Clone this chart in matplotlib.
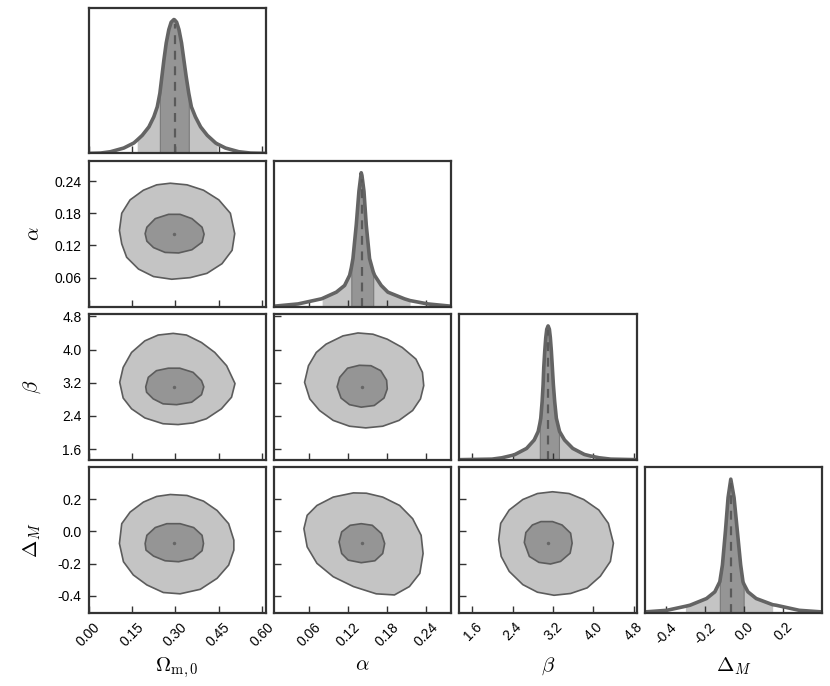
import numpy as np
import matplotlib
matplotlib.use('Agg')
import matplotlib.pyplot as plt
from matplotlib.patches import Polygon
from matplotlib.ticker import FormatStrFormatter

plt.rcParams['font.family'] = ['Liberation Sans', 'DejaVu Sans']
plt.rcParams['mathtext.fontset'] = 'cm'
plt.rcParams['axes.unicode_minus'] = False

# parameters of the corner plot
names = [r'$\Omega_{\mathrm{m},0}$', r'$\alpha$', r'$\beta$', r'$\Delta_M$']
limits = [(0.0, 0.613), (0.006, 0.278), (1.34, 4.86), (-0.507, 0.398)]
ticks = [[0.0, 0.15, 0.30, 0.45, 0.60],
         [0.06, 0.12, 0.18, 0.24],
         [1.6, 2.4, 3.2, 4.0, 4.8],
         [-0.4, -0.2, 0.0, 0.2]]
fmts = ['%.2f', '%.2f', '%.1f', '%.1f']
best = [0.296, 0.141, 3.10, -0.071]

# 1D marginals (height relative to the peak)
om_x = [0.000, 0.042, 0.076, 0.122, 0.157, 0.1685, 0.186, 0.209, 0.226, 0.238, 0.247, 0.254,
        0.261, 0.269, 0.278, 0.286, 0.2954, 0.2977, 0.305, 0.313, 0.322, 0.330, 0.338, 0.347,
        0.356, 0.370, 0.388, 0.411, 0.440, 0.4455, 0.474, 0.520, 0.561, 0.613]
om_h = [0.000, 0.0025, 0.0125, 0.040, 0.078, 0.100, 0.135, 0.198, 0.273, 0.348, 0.449, 0.574,
        0.699, 0.825, 0.925, 0.98, 1.000, 0.998, 0.98, 0.925, 0.825, 0.699, 0.574, 0.449,
        0.348, 0.273, 0.198, 0.135, 0.078, 0.071, 0.040, 0.0125, 0.0025, 0.000]
om_band = [0.1685, 0.247, 0.2977, 0.347, 0.4455]

al_x = [0.006, 0.0431, 0.0788, 0.080, 0.1018, 0.1145, 0.1222, 0.1248, 0.1273, 0.1324, 0.1365,
        0.1400, 0.1411, 0.1442, 0.1477, 0.1528, 0.1584, 0.1605, 0.1707, 0.1809, 0.2064, 0.215,
        0.2421, 0.278]
al_h = [0.003, 0.020, 0.058, 0.060, 0.108, 0.158, 0.234, 0.29, 0.359, 0.611, 0.862,
        1.0, 0.98, 0.862, 0.611, 0.359, 0.26, 0.234, 0.158, 0.108, 0.058, 0.045,
        0.020, 0.003]
al_band = [0.080, 0.1248, 0.1411, 0.1584, 0.215]

be_x = [1.34, 1.987, 2.184, 2.41, 2.446, 2.675, 2.826, 2.905, 2.938, 2.957, 2.984, 3.003,
        3.016, 3.036, 3.056, 3.076, 3.102, 3.105, 3.128, 3.147, 3.167, 3.187, 3.207, 3.233,
        3.266, 3.318, 3.331, 3.429, 3.593, 3.823, 3.95, 4.118, 4.347, 4.86]
be_h = [0.001, 0.005, 0.015, 0.035, 0.040, 0.085, 0.148, 0.211, 0.27, 0.311, 0.436, 0.561,
        0.687, 0.812, 0.912, 0.975, 1.0, 0.998, 0.975, 0.912, 0.812, 0.687, 0.561, 0.436,
        0.311, 0.23, 0.211, 0.148, 0.085, 0.040, 0.028, 0.015, 0.005, 0.001]
be_band = [2.41, 2.938, 3.105, 3.318, 3.95]

dm_x = [-0.507, -0.395, -0.300, -0.2765, -0.192, -0.1496, -0.124, -0.1107, -0.0954, -0.0819,
        -0.068, -0.0514, -0.0345, -0.0176, -0.0058, -0.0024, 0.0196, 0.0619, 0.146, 0.1634,
        0.2819, 0.398]
dm_h = [0.008, 0.020, 0.050, 0.058, 0.108, 0.158, 0.234, 0.359, 0.611, 0.862,
        1.0, 0.862, 0.611, 0.359, 0.234, 0.22, 0.158, 0.108, 0.062, 0.058,
        0.020, 0.008]
dm_band = [-0.300, -0.124, -0.068, -0.0024, 0.146]

# 2D contours (95% outer, 68% inner)
om_al_95 = [(0.107, 0.148), (0.115, 0.180), (0.144, 0.205), (0.190, 0.223), (0.236, 0.233),
            (0.283, 0.236), (0.341, 0.233), (0.398, 0.223), (0.451, 0.205), (0.491, 0.180),
            (0.506, 0.142), (0.497, 0.111), (0.462, 0.086), (0.410, 0.068), (0.352, 0.060),
            (0.288, 0.057), (0.225, 0.062), (0.173, 0.076), (0.132, 0.098), (0.115, 0.123)]
om_al_68 = [(0.196, 0.142), (0.202, 0.154), (0.231, 0.170), (0.277, 0.178), (0.317, 0.178),
            (0.358, 0.170), (0.393, 0.154), (0.400, 0.141), (0.393, 0.126), (0.358, 0.112),
            (0.312, 0.106), (0.265, 0.107), (0.225, 0.116), (0.202, 0.128)]

om_be_95 = [(0.108, 3.21), (0.120, 3.57), (0.149, 3.93), (0.195, 4.21), (0.241, 4.35),
            (0.293, 4.39), (0.339, 4.35), (0.391, 4.17), (0.437, 3.93), (0.478, 3.61),
            (0.507, 3.18), (0.495, 2.85), (0.460, 2.57), (0.408, 2.33), (0.362, 2.23),
            (0.310, 2.19), (0.258, 2.21), (0.195, 2.35), (0.149, 2.57), (0.120, 2.83)]
om_be_68 = [(0.198, 3.10), (0.207, 3.33), (0.235, 3.49), (0.276, 3.55), (0.316, 3.55),
            (0.362, 3.45), (0.391, 3.25), (0.399, 3.10), (0.391, 2.91), (0.357, 2.73),
            (0.305, 2.67), (0.258, 2.69), (0.224, 2.81), (0.201, 2.97)]

al_be_95 = [(0.053, 3.21), (0.059, 3.61), (0.071, 3.93), (0.086, 4.13), (0.112, 4.33),
            (0.135, 4.40), (0.158, 4.37), (0.180, 4.25), (0.203, 4.05), (0.224, 3.77),
            (0.234, 3.45), (0.236, 3.13), (0.231, 2.81), (0.219, 2.53), (0.198, 2.29),
            (0.173, 2.15), (0.147, 2.11), (0.122, 2.15), (0.097, 2.29), (0.076, 2.53),
            (0.061, 2.81)]
al_be_68 = [(0.103, 3.10), (0.107, 3.33), (0.119, 3.55), (0.137, 3.62), (0.155, 3.61),
            (0.170, 3.49), (0.179, 3.26), (0.180, 3.05), (0.175, 2.83), (0.160, 2.65),
            (0.140, 2.61), (0.122, 2.67), (0.109, 2.83)]

om_dm_95 = [(0.107, -0.076), (0.115, 0.047), (0.144, 0.119), (0.190, 0.181), (0.236, 0.216),
            (0.283, 0.228), (0.341, 0.222), (0.398, 0.187), (0.445, 0.129), (0.485, 0.047),
            (0.503, -0.055), (0.503, -0.117), (0.485, -0.210), (0.445, -0.292), (0.387, -0.360),
            (0.317, -0.388), (0.259, -0.380), (0.202, -0.333), (0.155, -0.271), (0.121, -0.189)]
om_dm_68 = [(0.196, -0.076), (0.202, -0.025), (0.231, 0.023), (0.271, 0.047), (0.317, 0.047),
            (0.364, 0.023), (0.393, -0.025), (0.398, -0.076), (0.393, -0.121), (0.361, -0.169),
            (0.312, -0.189), (0.265, -0.183), (0.225, -0.154), (0.199, -0.117)]

al_dm_95 = [(0.052, 0.016), (0.057, 0.099), (0.072, 0.160), (0.097, 0.212), (0.128, 0.238),
            (0.148, 0.236), (0.173, 0.212), (0.199, 0.160), (0.219, 0.078), (0.232, -0.025),
            (0.235, -0.138), (0.230, -0.261), (0.214, -0.343), (0.191, -0.395), (0.163, -0.388),
            (0.128, -0.343), (0.097, -0.282), (0.072, -0.199), (0.057, -0.097)]
al_dm_68 = [(0.106, -0.066), (0.110, -0.004), (0.123, 0.037), (0.140, 0.047), (0.157, 0.037),
            (0.171, -0.014), (0.176, -0.076), (0.173, -0.138), (0.161, -0.183), (0.140, -0.195),
            (0.120, -0.179), (0.110, -0.138)]

be_dm_95 = [(2.12, -0.053), (2.16, 0.049), (2.33, 0.132), (2.60, 0.197), (2.89, 0.234),
            (3.19, 0.245), (3.52, 0.234), (3.81, 0.197), (4.11, 0.132), (4.30, 0.049),
            (4.40, -0.074), (4.34, -0.187), (4.14, -0.279), (3.88, -0.351), (3.55, -0.386),
            (3.22, -0.397), (2.89, -0.378), (2.60, -0.331), (2.33, -0.249), (2.17, -0.156)]
be_dm_68 = [(2.63, -0.070), (2.66, -0.008), (2.79, 0.039), (2.96, 0.060), (3.19, 0.060),
            (3.38, 0.039), (3.55, -0.012), (3.58, -0.074), (3.54, -0.136), (3.35, -0.187),
            (3.15, -0.203), (2.92, -0.193), (2.73, -0.156)]

marg = [(om_x, om_h, om_band), (al_x, al_h, al_band), (be_x, be_h, be_band), (dm_x, dm_h, dm_band)]
conts = {(1, 0): (om_al_95, om_al_68), (2, 0): (om_be_95, om_be_68), (2, 1): (al_be_95, al_be_68),
         (3, 0): (om_dm_95, om_dm_68), (3, 1): (al_dm_95, al_dm_68), (3, 2): (be_dm_95, be_dm_68)}

light = '#c4c4c4'
dark = '#959595'
line_c = '#646464'
edge_c = '#5c5c5c'
spine_c = '#333333'


def draw_1d(ax, x, h, band):
    x = np.array(x)
    h = np.array(h)
    lo95, lo68, med, hi68, hi95 = band
    ax.fill_between(x, 0, h, where=(x >= lo95) & (x <= hi95), color=light, lw=0)
    ax.fill_between(x, 0, h, where=(x >= lo68) & (x <= hi68), fc=dark, ec='#7a7a7a', lw=0.8)
    ax.plot(x, h, color=line_c, lw=2.6, solid_joinstyle='round')
    hm = h[np.argmin(np.abs(x - med))]
    ax.plot([med, med], [0, hm * 0.97], color='#5a5a5a', ls=(0, (4, 3)), lw=1.6)
    ax.set_ylim(0, 1.09)


def draw_2d(ax, outer, inner, bx, by):
    ax.add_patch(Polygon(np.array(outer), closed=True, fc=light, ec=edge_c, lw=1.2, joinstyle='round'))
    ax.add_patch(Polygon(np.array(inner), closed=True, fc=dark, ec=edge_c, lw=1.2, joinstyle='round'))
    ax.plot(bx, by, 'o', ms=2.5, color='#666666', mec='none')


fig, axes = plt.subplots(4, 4, figsize=(8.3, 6.86), dpi=100,
                         gridspec_kw=dict(left=88.5 / 830, right=822 / 830, top=1 - 7.5 / 686,
                                          bottom=1 - 613 / 686, wspace=0.047, hspace=0.05))

for i in range(4):
    for j in range(4):
        ax = axes[i, j]
        if j > i:
            ax.axis('off')
            continue
        if i == j:
            x, h, band = marg[i]
            draw_1d(ax, x, h, band)
            ax.set_yticks([])
        else:
            outer, inner = conts[(i, j)]
            draw_2d(ax, outer, inner, best[j], best[i])
            ax.set_ylim(limits[i])
            ax.set_yticks(ticks[i])
            ax.yaxis.set_major_formatter(FormatStrFormatter(fmts[i]))
            if j == 0:
                ax.set_ylabel(names[i], fontsize=15)
                ax.yaxis.set_label_coords(-0.255, 0.5)
            else:
                ax.set_yticklabels([])
        ax.set_xlim(limits[j])
        ax.set_xticks(ticks[j])
        ax.xaxis.set_major_formatter(FormatStrFormatter(fmts[j]))
        if i == 3:
            plt.setp(ax.get_xticklabels(), rotation=45, ha='center')
            ax.set_xlabel(names[j], fontsize=15, va='top')
            ax.xaxis.set_label_coords(0.5, -0.29)
        else:
            ax.set_xticklabels([])
        ax.tick_params(direction='in', length=5, width=1.0, color=spine_c,
                       labelsize=10, pad=5, top=False, right=False)
        for s in ax.spines.values():
            s.set_color(spine_c)
            s.set_linewidth(1.6)

plt.savefig('out.png', dpi=100, facecolor='w')
